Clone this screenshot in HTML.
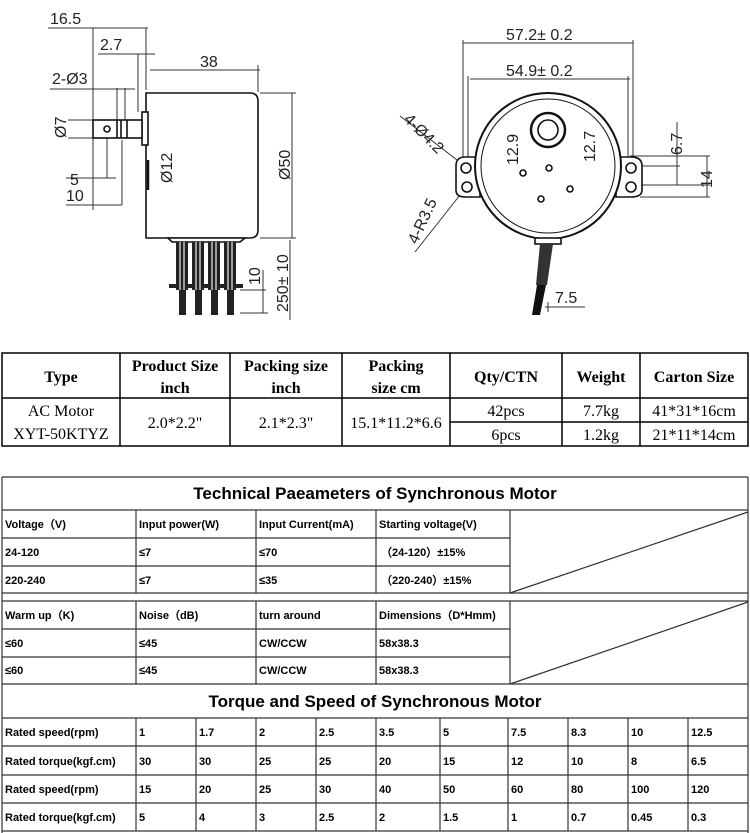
<!DOCTYPE html>
<html><head><meta charset="utf-8"><style>
html,body{margin:0;padding:0;background:#fff;}
svg{display:block}
.d{font-family:"Liberation Sans",sans-serif;font-size:16px;fill:#222}
.t{font-family:"Liberation Serif",serif;font-size:16px;fill:#000}
.tb{font-family:"Liberation Serif",serif;font-size:16px;font-weight:bold;fill:#000}
.s{font-family:"Liberation Sans",sans-serif;font-size:11px;font-weight:bold;fill:#000}
.h{font-family:"Liberation Sans",sans-serif;font-size:17px;font-weight:bold;fill:#000}
</style></head><body>
<svg width="750" height="833" viewBox="0 0 750 833" xmlns="http://www.w3.org/2000/svg">
<g stroke="#333" stroke-width="1" fill="none">
<line x1="48" y1="28" x2="148" y2="28"/>
<line x1="93" y1="28" x2="93" y2="210"/>
<line x1="146" y1="28" x2="146" y2="90"/>
<line x1="98" y1="54" x2="155" y2="54"/>
<line x1="138" y1="54" x2="138" y2="112"/>
<line x1="150" y1="70" x2="260" y2="70"/>
<line x1="258" y1="65" x2="258" y2="92"/>
<line x1="50" y1="89" x2="135" y2="89"/>
<line x1="117" y1="88" x2="117" y2="120"/>
<line x1="125" y1="88" x2="125" y2="120"/>
<line x1="68" y1="120" x2="93" y2="120"/>
<line x1="68" y1="138" x2="93" y2="138"/>
<line x1="66" y1="178" x2="116" y2="178"/>
<line x1="107" y1="130" x2="107" y2="178"/>
<line x1="66" y1="205" x2="122" y2="205"/>
<line x1="122" y1="140" x2="122" y2="205"/>
<line x1="150" y1="110" x2="177" y2="110"/>
<line x1="150" y1="146" x2="177" y2="146"/>
<line x1="175" y1="110" x2="175" y2="146"/>
<line x1="260" y1="93" x2="296" y2="93"/>
<line x1="260" y1="238" x2="296" y2="238"/>
<line x1="292" y1="93" x2="292" y2="238"/>
<line x1="240" y1="290" x2="266" y2="290"/>
<line x1="240" y1="313" x2="268" y2="313"/>
<line x1="263" y1="270" x2="263" y2="313"/>
<line x1="290" y1="240" x2="290" y2="320"/>
</g>
<g stroke="#111" stroke-width="1.6" fill="#fff">
<path d="M146 93 H250 Q258 93 258 101 V230 Q258 238 250 238 H146 Z"/>
<rect x="142" y="112" width="6" height="33"/>
<rect x="93" y="120" width="49" height="18"/>
<circle cx="107" cy="129" r="3"/>
<line x1="117" y1="120" x2="117" y2="138"/>
<line x1="121" y1="120" x2="121" y2="138"/>
<line x1="127" y1="120" x2="127" y2="138"/>
<path d="M148 160 V190" stroke-width="2.5"/>
<path d="M168 238 H245 L240 242 H172 Z"/>
</g>
<g fill="#222">
<rect x="176" y="242" width="12" height="48"/><rect x="192" y="242" width="12" height="48"/>
<rect x="208" y="242" width="12" height="48"/><rect x="224" y="242" width="12" height="48"/>
<rect x="169" y="284" width="74" height="4"/>
<rect x="179" y="290" width="7" height="25"/><rect x="195" y="290" width="7" height="25"/>
<rect x="211" y="290" width="7" height="25"/><rect x="227" y="290" width="7" height="25"/>
</g>
<g fill="#fff" opacity="0.55">
<rect x="179" y="242" width="2" height="48"/><rect x="183" y="242" width="2" height="48"/>
<rect x="195" y="242" width="2" height="48"/><rect x="199" y="242" width="2" height="48"/>
<rect x="211" y="242" width="2" height="48"/><rect x="215" y="242" width="2" height="48"/>
<rect x="227" y="242" width="2" height="48"/><rect x="231" y="242" width="2" height="48"/>
</g>
<text class="d" x="50" y="24">16.5</text>
<text class="d" x="100" y="50">2.7</text>
<text class="d" x="200" y="67">38</text>
<text class="d" x="52" y="84">2-Ø3</text>
<text class="d" x="70" y="185">5</text>
<text class="d" x="66" y="201">10</text>
<text class="d" transform="translate(66,138) rotate(-90)">Ø7</text>
<text class="d" transform="translate(172,183) rotate(-90)">Ø12</text>
<text class="d" transform="translate(290,180) rotate(-90)">Ø50</text>
<text class="d" transform="translate(260,285) rotate(-90)">10</text>
<text class="d" transform="translate(288,312) rotate(-90)">250± 10</text>

<g stroke="#333" stroke-width="1" fill="none">
<line x1="463" y1="43" x2="633" y2="43"/>
<line x1="463" y1="40" x2="463" y2="160"/>
<line x1="633" y1="40" x2="633" y2="160"/>
<line x1="470" y1="79" x2="630" y2="79"/>
<line x1="468" y1="76" x2="468" y2="160"/>
<line x1="628" y1="76" x2="628" y2="160"/>
<line x1="514" y1="129" x2="537" y2="129"/><line x1="514" y1="129" x2="514" y2="168"/>
<line x1="514" y1="168" x2="540" y2="168"/>
<line x1="560" y1="129" x2="592" y2="129"/><line x1="591" y1="129" x2="591" y2="165"/>
<line x1="591" y1="165" x2="640" y2="165"/>
<line x1="630" y1="156" x2="710" y2="156"/>
<line x1="640" y1="166" x2="680" y2="166"/>
<line x1="677" y1="122" x2="677" y2="185"/>
<line x1="640" y1="185" x2="710" y2="185"/>
<line x1="640" y1="197" x2="710" y2="197"/>
<line x1="707" y1="156" x2="707" y2="197"/>
<line x1="400" y1="116" x2="457" y2="160"/>
<line x1="415" y1="252" x2="460" y2="195"/>
<line x1="545" y1="307" x2="585" y2="307"/>
<line x1="548" y1="302" x2="548" y2="312"/>
</g>
<g stroke="#111" stroke-width="1.6" fill="#fff">
<path d="M465 157 Q456 157 456 166 V190 Q456 197 465 197 H480 V157 Z"/>
<path d="M631 157 Q642 157 642 166 V190 Q642 197 631 197 H616 V157 Z"/>
<circle cx="548" cy="166" r="73" stroke-width="2"/>
<circle cx="548" cy="166" r="67" stroke-width="1"/>
<circle cx="466" cy="168" r="5"/><circle cx="467" cy="187" r="5"/>
<circle cx="631" cy="168" r="5"/><circle cx="631" cy="187" r="5"/>
<circle cx="548" cy="130" r="17" stroke-width="2.5"/>
<circle cx="548" cy="130" r="10"/>
<circle cx="523" cy="173" r="3"/><circle cx="549" cy="168" r="3"/>
<circle cx="570" cy="189" r="3"/><circle cx="541" cy="199" r="3"/>
<rect x="535" y="238" width="26" height="6"/>
</g>
<path d="M540 244 L553 244 L547 285 L536 285 Z" fill="#333"/>
<path d="M537 285 L546 285 L540 315 L532 315 Z" fill="#111"/>
<text class="d" x="506" y="40">57.2± 0.2</text>
<text class="d" x="506" y="76">54.9± 0.2</text>
<text class="d" x="555" y="303">7.5</text>
<text class="d" transform="translate(518,165) rotate(-90)">12.9</text>
<text class="d" transform="translate(595,162) rotate(-90)">12.7</text>
<text class="d" transform="translate(682,155) rotate(-90)">6.7</text>
<text class="d" transform="translate(712,188) rotate(-90)">14</text>
<text class="d" transform="translate(403,120) rotate(45)">4-Ø4.2</text>
<text class="d" transform="translate(417,245) rotate(-65)">4-R3.5</text>

<g stroke="#000" stroke-width="1.5" fill="none">
<rect x="2" y="353" width="746" height="93"/>
<line x1="2" y1="398" x2="748" y2="398"/>
<line x1="450" y1="422" x2="748" y2="422"/>
<line x1="120" y1="353" x2="120" y2="446"/>
<line x1="230" y1="353" x2="230" y2="446"/>
<line x1="342" y1="353" x2="342" y2="446"/>
<line x1="450" y1="353" x2="450" y2="446"/>
<line x1="562" y1="353" x2="562" y2="446"/>
<line x1="640" y1="353" x2="640" y2="446"/>
</g>
<g text-anchor="middle">
<text class="tb" x="61" y="382">Type</text>
<text class="tb" x="175" y="371">Product Size</text><text class="tb" x="175" y="393">inch</text>
<text class="tb" x="286" y="371">Packing size</text><text class="tb" x="286" y="393">inch</text>
<text class="tb" x="396" y="371">Packing</text><text class="tb" x="396" y="393">size cm</text>
<text class="tb" x="506" y="382">Qty/CTN</text>
<text class="tb" x="601" y="382">Weight</text>
<text class="tb" x="694" y="382">Carton Size</text>
<text class="t" x="61" y="416">AC Motor</text><text class="t" x="61" y="439">XYT-50KTYZ</text>
<text class="t" x="175" y="428">2.0*2.2"</text>
<text class="t" x="286" y="428">2.1*2.3"</text>
<text class="t" x="396" y="428">15.1*11.2*6.6</text>
<text class="t" x="506" y="416">42pcs</text><text class="t" x="506" y="440">6pcs</text>
<text class="t" x="601" y="416">7.7kg</text><text class="t" x="601" y="440">1.2kg</text>
<text class="t" x="694" y="416">41*31*16cm</text><text class="t" x="694" y="440">21*11*14cm</text>
</g>

<g stroke="#333" stroke-width="1.2" fill="none">
<line x1="2" y1="477" x2="748" y2="477"/>
<line x1="2" y1="477" x2="2" y2="833"/>
<line x1="748" y1="477" x2="748" y2="833"/>
<line x1="2" y1="510" x2="748" y2="510"/>
<line x1="2" y1="538" x2="510" y2="538"/>
<line x1="2" y1="566" x2="510" y2="566"/>
<line x1="2" y1="593" x2="748" y2="593"/>
<line x1="2" y1="601" x2="748" y2="601"/>
<line x1="2" y1="629" x2="510" y2="629"/>
<line x1="2" y1="657" x2="510" y2="657"/>
<line x1="2" y1="684" x2="748" y2="684"/>
<line x1="136" y1="510" x2="136" y2="593"/><line x1="256" y1="510" x2="256" y2="593"/>
<line x1="376" y1="510" x2="376" y2="593"/><line x1="510" y1="510" x2="510" y2="593"/>
<line x1="136" y1="601" x2="136" y2="684"/><line x1="256" y1="601" x2="256" y2="684"/>
<line x1="376" y1="601" x2="376" y2="684"/><line x1="510" y1="601" x2="510" y2="684"/>
<line x1="510" y1="593" x2="748" y2="512"/>
<line x1="510" y1="684" x2="748" y2="602"/>
<line x1="2" y1="718" x2="748" y2="718"/>
<line x1="2" y1="746" x2="748" y2="746"/>
<line x1="2" y1="775" x2="748" y2="775"/>
<line x1="2" y1="803" x2="748" y2="803"/>
<line x1="2" y1="831" x2="748" y2="831"/>
<line x1="136" y1="718" x2="136" y2="831"/><line x1="196" y1="718" x2="196" y2="831"/>
<line x1="256" y1="718" x2="256" y2="831"/><line x1="316" y1="718" x2="316" y2="831"/>
<line x1="376" y1="718" x2="376" y2="831"/><line x1="440" y1="718" x2="440" y2="831"/>
<line x1="508" y1="718" x2="508" y2="831"/><line x1="568" y1="718" x2="568" y2="831"/>
<line x1="628" y1="718" x2="628" y2="831"/><line x1="688" y1="718" x2="688" y2="831"/>
</g>
<text class="h" x="375" y="499" text-anchor="middle">Technical Paeameters of Synchronous Motor</text>
<text class="h" x="375" y="707" text-anchor="middle">Torque and Speed of Synchronous Motor</text>
<g>
<text class="s" x="5" y="528">Voltage（V)</text><text class="s" x="139" y="528">Input power(W)</text><text class="s" x="259" y="528">Input Current(mA)</text><text class="s" x="379" y="528">Starting voltage(V)</text>
<text class="s" x="5" y="556">24-120</text><text class="s" x="139" y="556">≤7</text><text class="s" x="259" y="556">≤70</text><text class="s" x="381" y="556">（24-120）±15%</text>
<text class="s" x="5" y="584">220-240</text><text class="s" x="139" y="584">≤7</text><text class="s" x="259" y="584">≤35</text><text class="s" x="381" y="584">（220-240）±15%</text>
<text class="s" x="5" y="619">Warm up（K)</text><text class="s" x="139" y="619">Noise（dB)</text><text class="s" x="259" y="619">turn around</text><text class="s" x="379" y="619">Dimensions（D*Hmm)</text>
<text class="s" x="5" y="647">≤60</text><text class="s" x="139" y="647">≤45</text><text class="s" x="259" y="647">CW/CCW</text><text class="s" x="379" y="647">58x38.3</text>
<text class="s" x="5" y="674">≤60</text><text class="s" x="139" y="674">≤45</text><text class="s" x="259" y="674">CW/CCW</text><text class="s" x="379" y="674">58x38.3</text>
</g>
<g>
<text class="s" x="5" y="736">Rated speed(rpm)</text>
<text class="s" x="139" y="736">1</text><text class="s" x="199" y="736">1.7</text><text class="s" x="259" y="736">2</text><text class="s" x="319" y="736">2.5</text><text class="s" x="379" y="736">3.5</text><text class="s" x="443" y="736">5</text><text class="s" x="511" y="736">7.5</text><text class="s" x="571" y="736">8.3</text><text class="s" x="631" y="736">10</text><text class="s" x="691" y="736">12.5</text>
<text class="s" x="5" y="765">Rated torque(kgf.cm)</text>
<text class="s" x="139" y="765">30</text><text class="s" x="199" y="765">30</text><text class="s" x="259" y="765">25</text><text class="s" x="319" y="765">25</text><text class="s" x="379" y="765">20</text><text class="s" x="443" y="765">15</text><text class="s" x="511" y="765">12</text><text class="s" x="571" y="765">10</text><text class="s" x="631" y="765">8</text><text class="s" x="691" y="765">6.5</text>
<text class="s" x="5" y="793">Rated speed(rpm)</text>
<text class="s" x="139" y="793">15</text><text class="s" x="199" y="793">20</text><text class="s" x="259" y="793">25</text><text class="s" x="319" y="793">30</text><text class="s" x="379" y="793">40</text><text class="s" x="443" y="793">50</text><text class="s" x="511" y="793">60</text><text class="s" x="571" y="793">80</text><text class="s" x="631" y="793">100</text><text class="s" x="691" y="793">120</text>
<text class="s" x="5" y="821">Rated torque(kgf.cm)</text>
<text class="s" x="139" y="821">5</text><text class="s" x="199" y="821">4</text><text class="s" x="259" y="821">3</text><text class="s" x="319" y="821">2.5</text><text class="s" x="379" y="821">2</text><text class="s" x="443" y="821">1.5</text><text class="s" x="511" y="821">1</text><text class="s" x="571" y="821">0.7</text><text class="s" x="631" y="821">0.45</text><text class="s" x="691" y="821">0.3</text>
</g>
</svg>
</body></html>
